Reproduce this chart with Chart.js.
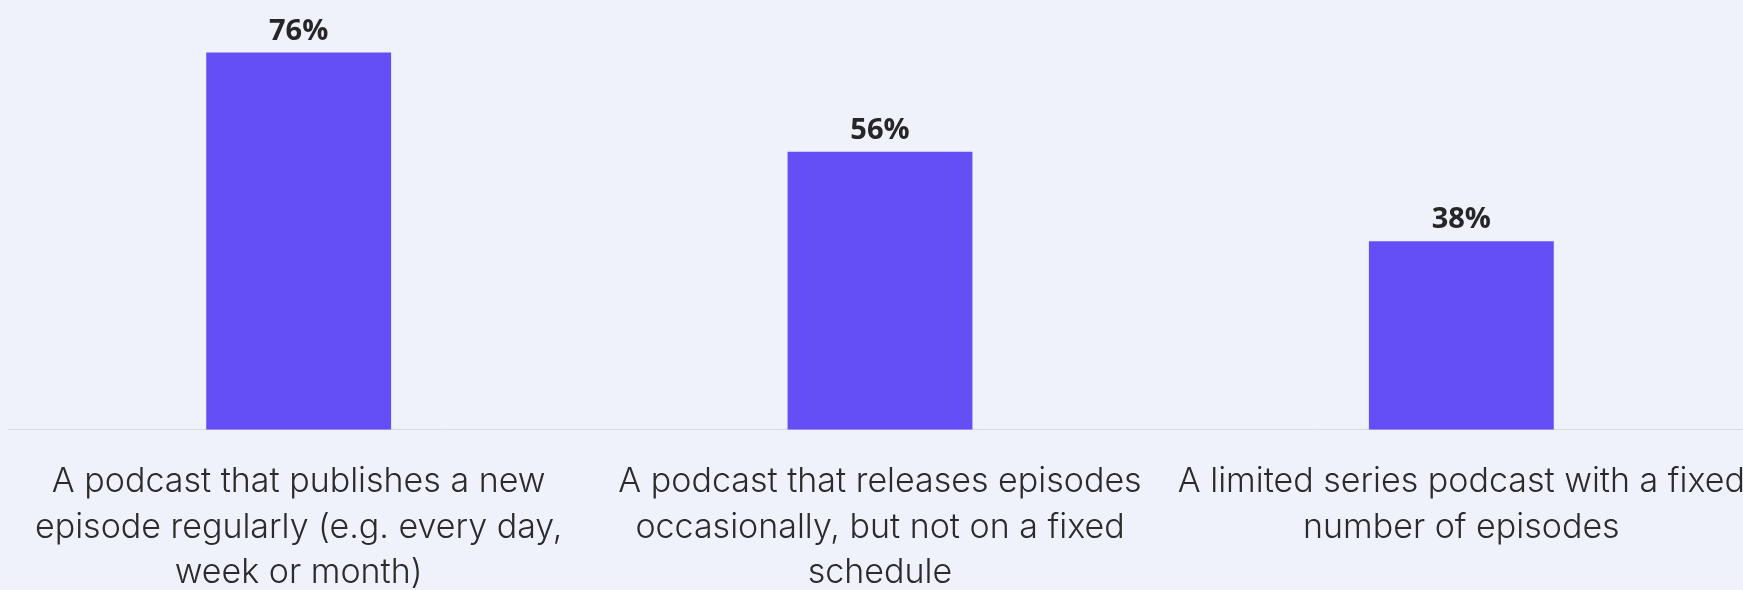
<!DOCTYPE html>
<html>
<head>
<meta charset="utf-8">
<script src="https://cdn.jsdelivr.net/npm/chart.js@4"></script>
<style>
    html, body { margin: 0; padding: 0; background: #eff2fb; overflow: hidden; }
    #wrap { width: 1752px; height: 590px; }
</style>
</head>
<body>
<div id="wrap"><canvas id="grafico" width="1752" height="590"></canvas></div>
<script>
// DADOS
const categorias = [
    ['A podcast that publishes a new', 'episode regularly (e.g. every day,', 'week or month)'],
    ['A podcast that releases episodes', 'occasionally, but not on a fixed', 'schedule'],
    ['A limited series podcast with a fixed', 'number of episodes']
];
const valores = [76, 56, 38];
const rotulos = ['76%', '56%', '38%'];

// rótulos em cima das barras
const rotulosPlugin = {
    id: 'rotulos',
    afterDatasetsDraw(chart) {
        const ctx = chart.ctx;
        const meta = chart.getDatasetMeta(0);
        ctx.save();
        ctx.font = 'bold 29px "Open Sans"';
        ctx.fillStyle = '#262626';
        ctx.textAlign = 'center';
        ctx.textBaseline = 'alphabetic';
        meta.data.forEach((bar, i) => {
            ctx.fillText(rotulos[i], bar.x, bar.y - 13);
        });
        ctx.restore();
    }
};

const ctx = document.getElementById('grafico').getContext('2d');

new Chart(ctx, {
    type: 'bar',
    data: {
        labels: categorias,
        datasets: [{
            data: valores,
            backgroundColor: '#634ff5',
            borderWidth: 0,
            categoryPercentage: 1,
            barPercentage: 0.318
        }]
    },
    options: {
        responsive: false,
        animation: false,
        layout: { padding: { left: 8, right: 0, top: 0, bottom: -35 } },
        plugins: {
            legend: { display: false },
            tooltip: { enabled: false }
        },
        scales: {
            x: {
                grid: { display: false, drawTicks: false },
                border: { display: true, color: '#d9dbe2', width: 1 },
                ticks: {
                    padding: 29,
                    color: '#2b2b2b',
                    maxRotation: 0,
                    autoSkip: false,
                    font: { family: 'Inter', size: 34, weight: 300, lineHeight: 1.345 }
                },
                // sem padding extra nas pontas por causa dos rótulos largos
                afterFit(scale) {
                    scale.paddingLeft = 0;
                    scale.paddingRight = 0;
                }
            },
            y: {
                display: false,
                min: 0,
                max: 86.6
            }
        }
    },
    plugins: [rotulosPlugin]
});
</script>
</body>
</html>
